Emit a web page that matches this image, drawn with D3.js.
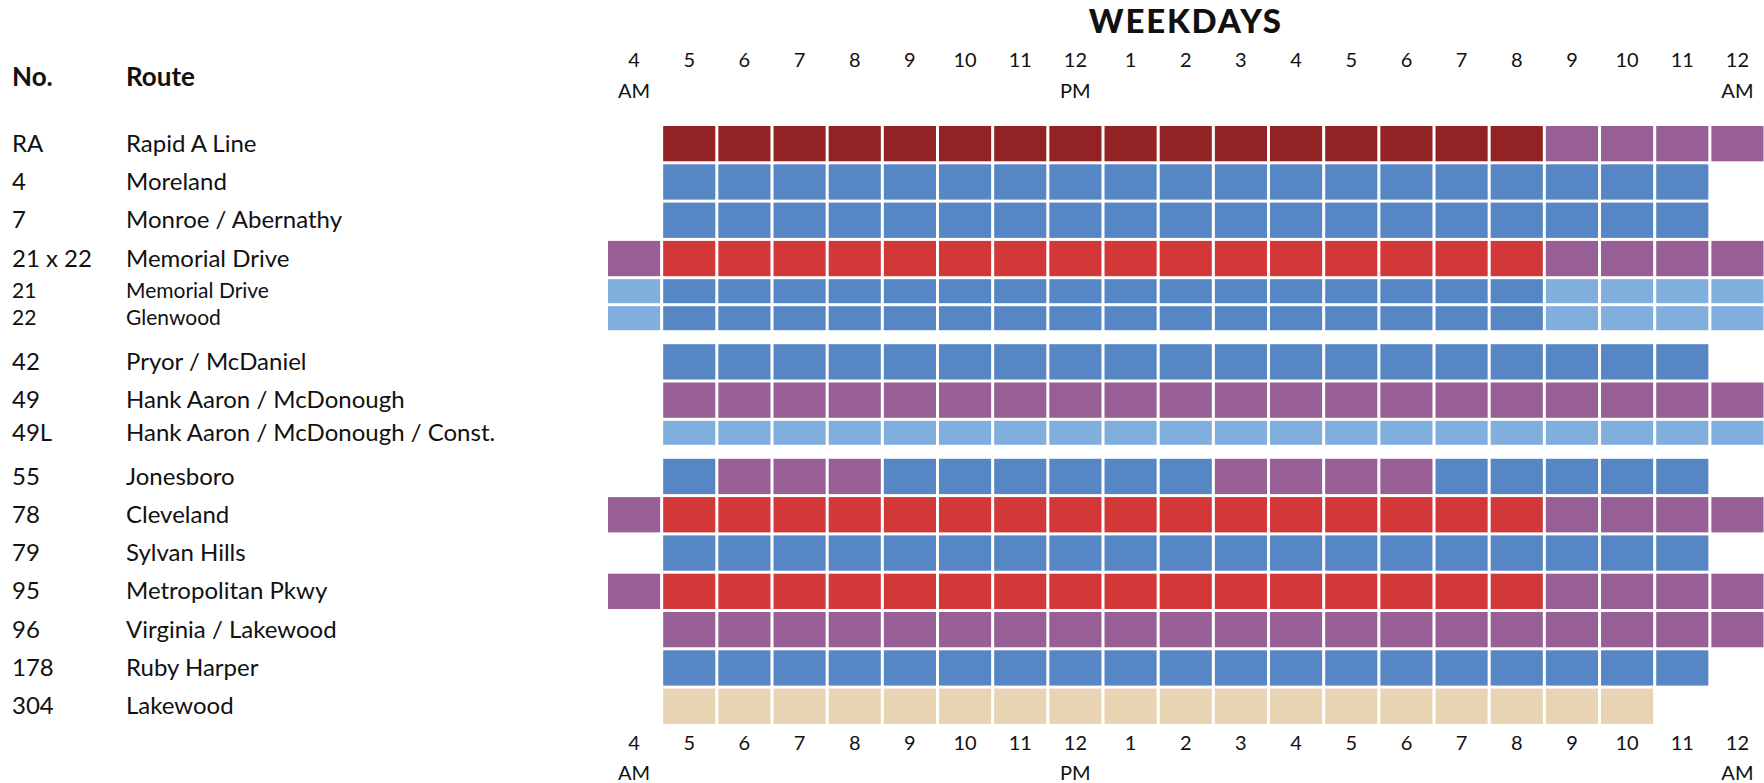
<!DOCTYPE html>
<html>
<head>
<meta charset="utf-8">
<script src="https://cdn.jsdelivr.net/npm/d3@7"></script>
<style>
  body { margin: 0; background: white; }
  text { font-family: Lato, "Open Sans", sans-serif; fill: #111; }
</style>
</head>
<body>
<div id="container"></div>
<script>
// hours shown across the top / bottom (4 AM .. 12 AM)
let hours = ["4", "5", "6", "7", "8", "9", "10", "11", "12", "1", "2", "3", "4", "5", "6", "7", "8", "9", "10", "11", "12"];
let ampm = [[0, "AM"], [8, "PM"], [20, "AM"]];

let routeNos = ["RA", "4", "7", "21 x 22", "21", "22", "42", "49", "49L", "55", "78", "79", "95", "96", "178", "304"];
let routeNames = ["Rapid A Line", "Moreland", "Monroe / Abernathy", "Memorial Drive", "Memorial Drive", "Glenwood",
  "Pryor / McDaniel", "Hank Aaron / McDonough", "Hank Aaron / McDonough / Const.",
  "Jonesboro", "Cleveland", "Sylvan Hills", "Metropolitan Pkwy", "Virginia / Lakewood", "Ruby Harper", "Lakewood"];
// "full" rows are tall, "half" rows are the thin rows
let rowKind = ["full", "full", "full", "full", "half", "half", "full", "full", "half",
  "full", "full", "full", "full", "full", "full", "full"];
// the two sub-routes of 21 x 22 get a smaller label
let smallLabel = ["21", "22"];
// a gap is put before these rows
let groupStarts = ["42", "55"];

// service level per hour, one letter per hour column (4 AM .. 12 AM)
// . none, D rapid, R high, B medium, L low sub-route, P low, T limited
let service = [
  ".DDDDDDDDDDDDDDDDPPPP",
  ".BBBBBBBBBBBBBBBBBBB.",
  ".BBBBBBBBBBBBBBBBBBB.",
  "PRRRRRRRRRRRRRRRRPPPP",
  "LBBBBBBBBBBBBBBBBLLLL",
  "LBBBBBBBBBBBBBBBBLLLL",
  ".BBBBBBBBBBBBBBBBBBB.",
  ".PPPPPPPPPPPPPPPPPPPP",
  ".LLLLLLLLLLLLLLLLLLLL",
  ".BPPPBBBBBBPPPPBBBBB.",
  "PRRRRRRRRRRRRRRRRPPPP",
  ".BBBBBBBBBBBBBBBBBBB.",
  "PRRRRRRRRRRRRRRRRPPPP",
  ".PPPPPPPPPPPPPPPPPPPP",
  ".BBBBBBBBBBBBBBBBBBB.",
  ".TTTTTTTTTTTTTTTTTT.."
];

let levelColors = {
  "D": "#922223",
  "R": "#d33839",
  "B": "#5786c4",
  "L": "#80aedd",
  "P": "#985f96",
  "T": "#e8d3b3"
};

let w = 1764;
let h = 783;

let viz = d3.select("#container")
  .append("svg")
  .attr("width", w)
  .attr("height", h)
  .style("display", "block");

// row heights in "units": a full row is 1, a half row a bit less, plus group gaps
let halfUnit = 0.705;
let gapUnit = 0.287;
let rows = [];
let acc = 0;
routeNos.forEach(function (no, i) {
  if (groupStarts.includes(no)) acc += gapUnit;
  let size = rowKind[i] == "full" ? 1 : halfUnit;
  rows.push({ no: no, name: routeNames[i], kind: rowKind[i], start: acc, size: size, service: service[i] });
  acc += size;
});

let xScale = d3.scaleBand()
  .domain(d3.range(hours.length))
  .range([608, 1763.5])
  .paddingInner(0.055)
  .paddingOuter(0);

let yScale = d3.scaleLinear().domain([0, acc]).range([126, 126 + acc * 38.3]);
let cellGap = 3;

// cells
let rowGroups = viz.append("g").attr("class", "cells")
  .selectAll("g")
  .data(rows)
  .enter()
  .append("g");

rowGroups.selectAll("rect")
  .data(function (d) {
    return d.service.split("").map(function (c, i) {
      return { col: i, level: c, row: d };
    }).filter(function (c) { return c.level != "."; });
  })
  .enter()
  .append("rect")
  .attr("x", function (d) { return xScale(d.col); })
  .attr("width", xScale.bandwidth())
  .attr("y", function (d) { return yScale(d.row.start); })
  .attr("height", function (d) { return yScale(d.row.start + d.row.size) - yScale(d.row.start) - cellGap; })
  .attr("fill", function (d) { return levelColors[d.level]; });

// row labels
function rowMid(d) {
  return (yScale(d.start) + yScale(d.start + d.size) - cellGap) / 2;
}
function labelSize(d) {
  return smallLabel.includes(d.no) ? "21px" : "24px";
}
let labels = viz.append("g").attr("class", "labels");
labels.selectAll(".no")
  .data(rows)
  .enter()
  .append("text")
  .attr("class", "no")
  .attr("x", 12)
  .attr("y", rowMid)
  .attr("dy", "0.34em")
  .attr("font-size", labelSize)
  .text(function (d) { return d.no; });

labels.selectAll(".name")
  .data(rows)
  .enter()
  .append("text")
  .attr("class", "name")
  .attr("x", 126)
  .attr("y", rowMid)
  .attr("dy", "0.34em")
  .attr("font-size", labelSize)
  .text(function (d) { return d.name; });

// headers
viz.append("text").attr("x", 12).attr("y", 77).attr("dy", "0.36em")
  .attr("font-size", "26px").attr("font-weight", "bold").text("No.");
viz.append("text").attr("x", 126).attr("y", 77).attr("dy", "0.36em")
  .attr("font-size", "26px").attr("font-weight", "bold").text("Route");

viz.append("text")
  .attr("x", (xScale.range()[0] + xScale.range()[1]) / 2)
  .attr("y", 21)
  .attr("dy", "0.36em")
  .attr("text-anchor", "middle")
  .attr("font-size", "33px")
  .attr("font-weight", "900")
  .style("letter-spacing", "1.8px")
  .text("WEEKDAYS");

// hour axes, top and bottom
function buildHourAxis(axis, numY, ampmY) {
  let g = viz.append("g").attr("transform", "translate(0," + numY + ")");
  g.call(axis.tickSize(0).tickFormat(function (d) { return hours[d]; }));
  g.select(".domain").remove();
  g.selectAll("text")
    .attr("y", 0)
    .attr("dy", "0.36em")
    .attr("font-size", "20px")
    .attr("font-family", "Lato, sans-serif")
    .attr("fill", "#111");

  viz.append("g").selectAll("text")
    .data(ampm)
    .enter()
    .append("text")
    .attr("x", function (d) { return xScale(d[0]) + xScale.bandwidth() / 2; })
    .attr("y", ampmY)
    .attr("dy", "0.36em")
    .attr("text-anchor", "middle")
    .attr("font-size", "20px")
    .text(function (d) { return d[1]; });
}

buildHourAxis(d3.axisTop(xScale), 60, 91);
buildHourAxis(d3.axisBottom(xScale), 743, 773);
</script>
</body>
</html>
